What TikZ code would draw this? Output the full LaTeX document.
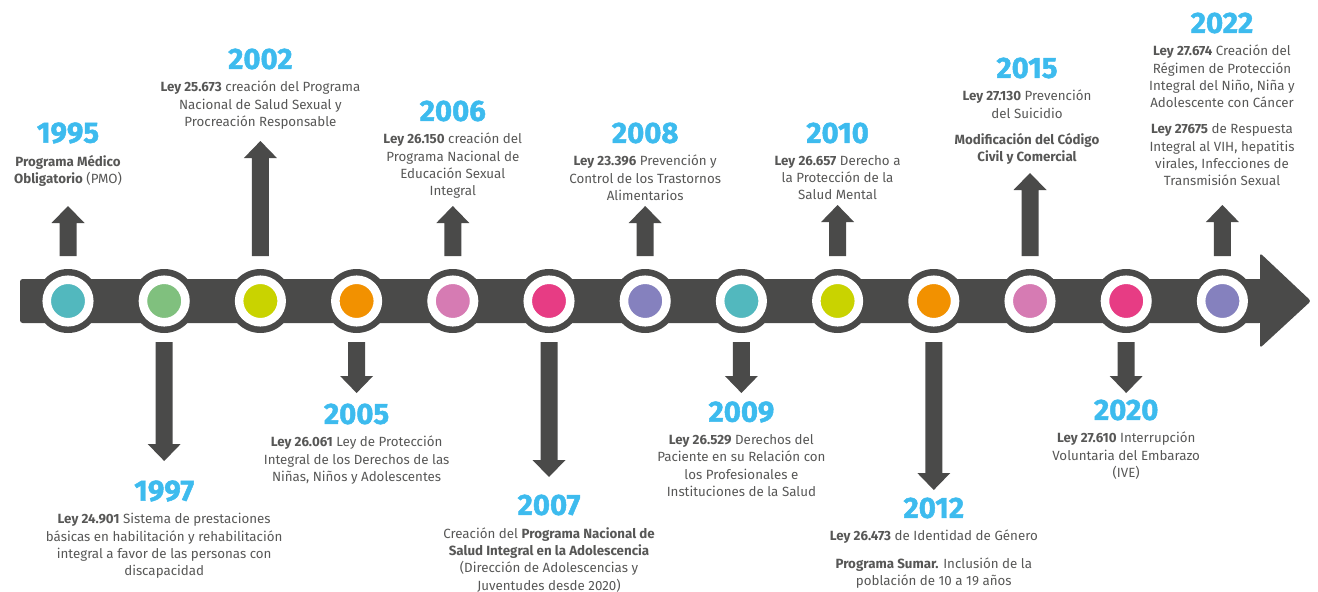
\documentclass[tikz,border=0pt]{standalone}
\usepackage{fontspec}
\setmainfont{Fira Sans}
\newfontfamily\gruesa{Fira Sans}[BoldFeatures={FakeBold=1.6}]
\usetikzlibrary{positioning}
\definecolor{gris}{HTML}{4A4A49}
\definecolor{celeste}{HTML}{3DBBEE}
\definecolor{gristexto}{HTML}{575756}
\definecolor{turquesa}{HTML}{52B8BE}
\definecolor{verde}{HTML}{80C07E}
\definecolor{lima}{HTML}{C9D300}
\definecolor{naranja}{HTML}{F29100}
\definecolor{rosa}{HTML}{D67BB3}
\definecolor{fucsia}{HTML}{E73C84}
\definecolor{lila}{HTML}{8581BE}

\begin{document}
\begin{tikzpicture}[x=0.75pt, y=-0.75pt, line cap=round]
  \tikzset{punto/.style={circle, fill=#1, draw=white, line width=6.4pt, minimum size=31.9pt, inner sep=0pt},
    anio/.style={font=\gruesa\fontsize{22}{22}\selectfont\bfseries, text=celeste, inner sep=0pt},
    texto/.style={font=\fontsize{10}{13}\selectfont, text=gristexto, align=center, inner sep=0pt}}
  \useasboundingbox (0,0) rectangle (1318,592);
  % barra
  \fill[gris, rounded corners=2] (20,279) rectangle (1262,323);
  \fill[gris, rounded corners=2] (1260,253) -- (1311,301) -- (1260,348) -- cycle;
  % puntos
  \foreach \a/\c [count=\i from 0] in {1995/turquesa, 1997/verde, 2002/lima, 2005/naranja, 2006/rosa, 2007/fucsia, 2008/lila, 2009/turquesa, 2010/lima, 2012/naranja, 2015/rosa, 2020/fucsia, 2022/lila} {
    \fill[gris] ({68+96.2*\i},301) circle (32);
    \node[punto=\c] (c\a) at ({68+96.2*\i},301) {};
  }
  % flechas arriba
  \foreach \x/\t in {68/206, 260.4/141, 452.8/206, 645.2/206, 837.6/205, 1030/173, 1222.4/205}
    \fill[gris] (\x-8.5,256) -- (\x-8.5,\t+17) -- (\x-16.5,\t+17) -- (\x,\t) -- (\x+16.5,\t+17) -- (\x+8.5,\t+17) -- (\x+8.5,256) -- cycle;
  % flechas abajo
  \foreach \x/\t in {164.2/461, 356.6/393, 549/477, 741.4/393, 933.8/490, 1126.2/393}
    \fill[gris] (\x-8.5,342) -- (\x-8.5,\t-17) -- (\x-16.5,\t-17) -- (\x,\t) -- (\x+16.5,\t-17) -- (\x+8.5,\t-17) -- (\x+8.5,342) -- cycle;

  % arriba
  \node[anio] (y1995) at (68,133) {1995};
  \node[texto, below=8.5pt of y1995] (t1995) {\textbf{Programa Médico}\\\textbf{Obligatorio} (PMO)};
  \node[anio] (y2002) at (260.4,59) {2002};
  \node[texto, below=8.5pt of y2002] (t2002) {\textbf{Ley 25.673} creación del Programa\\Nacional de Salud Sexual y\\Procreación Responsable};
  \node[anio] (y2006) at (452.8,111) {2006};
  \node[texto, below=8.5pt of y2006] (t2006) {\textbf{Ley 26.150} creación del\\Programa Nacional de\\Educación Sexual\\Integral};
  \node[anio] (y2008) at (645.2,133) {2008};
  \node[texto, below=8.5pt of y2008] (t2008) {\textbf{Ley 23.396} Prevención y\\Control de los Trastornos\\Alimentarios};
  \node[anio] (y2010) at (837.6,133) {2010};
  \node[texto, below=8.5pt of y2010] (t2010) {\textbf{Ley 26.657} Derecho a\\la Protección de la\\Salud Mental};
  \node[anio] (y2015) at (1027,68) {2015};
  \node[texto, below=8.5pt of y2015] (t2015) {\textbf{Ley 27.130} Prevención\\del Suicidio\\[6.5pt]\textbf{Modificación del Código}\\\textbf{Civil y Comercial}};
  \node[anio] (y2022) at (1222,23) {2022};
  \node[texto, below=8.5pt of y2022] (t2022) {\textbf{Ley 27.674} Creación del\\Régimen de Protección\\Integral del Niño, Niña y\\Adolescente con Cáncer\\[6.5pt]\textbf{Ley 27675} de Respuesta\\Integral al VIH, hepatitis\\virales, Infecciones de\\Transmisión Sexual};

  % abajo
  \node[anio] (y1997) at (164.2,491) {1997};
  \node[texto, below=8.5pt of y1997] (t1997) {\textbf{Ley 24.901} Sistema de prestaciones\\básicas en habilitación y rehabilitación\\integral a favor de las personas con\\discapacidad};
  \node[anio] (y2005) at (356.6,414) {2005};
  \node[texto, below=8.5pt of y2005] (t2005) {\textbf{Ley 26.061} Ley de Protección\\Integral de los Derechos de las\\Niñas, Niños y Adolescentes};
  \node[anio] (y2007) at (549,505) {2007};
  \node[texto, below=8.5pt of y2007] (t2007) {Creación del \textbf{Programa Nacional de}\\\textbf{Salud Integral en la Adolescencia}\\(Dirección de Adolescencias y\\Juventudes desde 2020)};
  \node[anio] (y2009) at (741.4,412) {2009};
  \node[texto, below=8.5pt of y2009] (t2009) {\textbf{Ley 26.529} Derechos del\\Paciente en su Relación con\\los Profesionales e\\Instituciones de la Salud};
  \node[anio] (y2012) at (933.8,508) {2012};
  \node[texto, below=8.5pt of y2012] (t2012) {\textbf{Ley 26.473} de Identidad de Género\\[7.5pt]\textbf{Programa Sumar.} Inclusión de la\\población de 10 a 19 años};
  \node[anio] (y2020) at (1126.2,410) {2020};
  \node[texto, below=8.5pt of y2020] (t2020) {\textbf{Ley 27.610} Interrupción\\Voluntaria del Embarazo\\(IVE)};
\end{tikzpicture}
\end{document}
